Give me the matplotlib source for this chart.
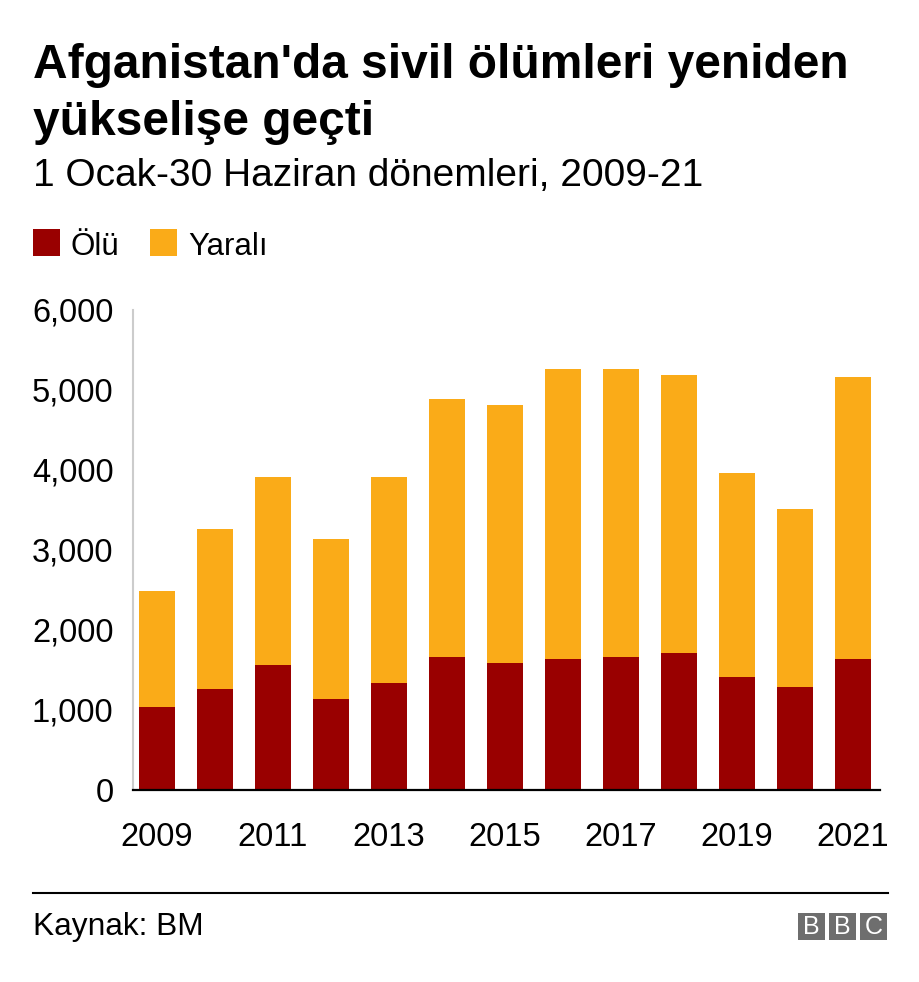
import numpy as np
import matplotlib
matplotlib.use("Agg")
import matplotlib.pyplot as plt
from matplotlib.patches import Rectangle

plt.rcParams['font.family'] = ['Liberation Sans', 'DejaVu Sans']

years = [2009, 2010, 2011, 2012, 2013, 2014, 2015, 2016, 2017, 2018, 2019, 2020, 2021]
olu = [1033, 1258, 1562, 1133, 1337, 1658, 1585, 1633, 1658, 1708, 1408, 1283, 1633]
toplam = [2488, 3258, 3908, 3133, 3908, 4888, 4812, 5262, 5262, 5188, 3958, 3508, 5167]
yarali = [t - o for t, o in zip(toplam, olu)]
yticks = [0, 1000, 2000, 3000, 4000, 5000, 6000]
xticks = [2009, 2011, 2013, 2015, 2017, 2019, 2021]

RED = '#990000'
ORANGE = '#FAAB18'

W, H = 920, 982
fig = plt.figure(figsize=(W / 100, H / 100), dpi=100)


def fx(x):
    return x / W


def fy(y):
    return 1 - y / H


# titles
fig.text(fx(33), fy(78), "Afganistan'da sivil ölümleri yeniden", fontsize=34.5,
         fontweight='bold', va='baseline', ha='left')
fig.text(fx(33), fy(135), "yükselişe geçti", fontsize=34.5,
         fontweight='bold', va='baseline', ha='left')
fig.text(fx(33), fy(186), "1 Ocak-30 Haziran dönemleri, 2009-21", fontsize=28,
         va='baseline', ha='left')

# legend
for x0, col, lab in [(33, RED, 'Ölü'), (150, ORANGE, 'Yaralı')]:
    fig.patches.append(Rectangle((fx(x0), fy(256)), 27 / W, 27 / H, transform=fig.transFigure,
                                 facecolor=col, edgecolor='none'))
    fig.text(fx(x0 + 38), fy(255), lab, fontsize=22.5, va='baseline', ha='left')

# chart
ax = fig.add_axes([fx(133), fy(790), (880 - 133) / W, 480 / H])
x = np.array(years)
ax.bar(x, olu, width=0.62, color=RED, zorder=2)
ax.bar(x, yarali, width=0.62, bottom=olu, color=ORANGE, zorder=2)
ax.set_xlim(2008.586, 2021.47)
ax.set_ylim(0, 6000)
ax.set_yticks(yticks)
ax.set_yticklabels([f'{v:,}' for v in yticks])
ax.set_xticks(xticks)
ax.set_xticklabels([str(v) for v in xticks])
ax.tick_params(axis='y', length=0, pad=14, labelsize=23.5)
ax.tick_params(axis='x', length=0, pad=23, labelsize=23.5)
for s in ['top', 'right']:
    ax.spines[s].set_visible(False)
ax.spines['left'].set_color('#cccccc')
ax.spines['left'].set_linewidth(1.5)
ax.spines['bottom'].set_color('black')
ax.spines['bottom'].set_linewidth(1.6)
ax.spines['bottom'].set_zorder(3)

# footer
fig.add_artist(plt.Line2D([fx(33), fx(888)], [fy(893), fy(893)], color='black', linewidth=1.5))
fig.text(fx(33), fy(935), 'Kaynak: BM', fontsize=22.8, va='baseline', ha='left')
for i, letter in enumerate('BBC'):
    x0 = 798 + i * 31
    fig.patches.append(Rectangle((fx(x0), fy(940)), 27 / W, 27 / H, transform=fig.transFigure,
                                 facecolor='#6e6e6e', edgecolor='none'))
    fig.text(fx(x0 + 13.5), fy(927), letter, color='white', fontsize=18,
             ha='center', va='center')

fig.savefig('out.png', dpi=100)
